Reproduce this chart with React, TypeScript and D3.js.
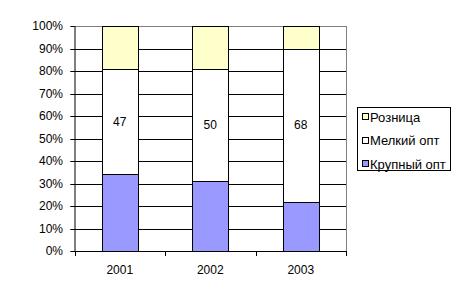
import React from "react";
import * as d3 from "d3";

const years = ["2001", "2002", "2003"];
const krupnyi = [34, 31, 22];
const melkiy = [47, 50, 68];
const roznica = [19, 19, 10];
const seriesNames = ["Крупный опт", "Мелкий опт", "Розница"];
const seriesColors = ["#9999FF", "#FFFFFF", "#FFFFCC"];
const yTicks = [0, 10, 20, 30, 40, 50, 60, 70, 80, 90, 100];

const W = 462, H = 298;
const plot = { left: 74.5, right: 346, top: 26, bottom: 251 };

export default function App() {
  const x = d3.scaleBand().domain(years).range([plot.left, plot.right]).paddingInner(0).paddingOuter(0);
  const y = d3.scaleLinear().domain([0, 100]).range([plot.bottom, plot.top]);
  const barW = 36;
  const rows = years.map((yr, i) => ({ year: yr, k: krupnyi[i], m: melkiy[i], r: roznica[i] }));
  const stack = d3.stack<any>().keys(["k", "m", "r"])(rows);
  const font = "Liberation Sans, Arial, sans-serif";
  const legendItems = [
    { name: seriesNames[2], color: seriesColors[2] },
    { name: seriesNames[1], color: seriesColors[1] },
    { name: seriesNames[0], color: seriesColors[0] },
  ];
  const legY = [117, 140.5, 164];
  return (
    <svg width={W} height={H} style={{ position: "absolute", left: 0, top: 0 }} fontFamily={font}>
      <rect width={W} height={H} fill="#fff" />
      {yTicks.map((t) => (
        <g key={t}>
          <line x1={plot.left - 4} x2={plot.right} y1={Math.round(y(t)) + 0.5} y2={Math.round(y(t)) + 0.5}
            stroke={t === 100 ? "#808080" : "#000"} strokeWidth={1} />
          <line x1={plot.left - 4} x2={plot.left} y1={Math.round(y(t)) + 0.5} y2={Math.round(y(t)) + 0.5} stroke="#000" />
          <text x={63} y={y(t)} dy="0.35em" textAnchor="end" fontSize={12}>{t}%</text>
        </g>
      ))}
      <line x1={plot.right + 0.5} x2={plot.right + 0.5} y1={plot.top} y2={plot.bottom} stroke="#808080" />
      {stack.map((s, si) =>
        s.map((d, i) => {
          const cx = (x(years[i]) as number) + x.bandwidth() / 2;
          const y0 = Math.round(y(d[0])) + 0.5;
          const y1 = Math.round(y(d[1])) + 0.5;
          return (
            <rect key={si + "-" + i} x={Math.round(cx - barW / 2) + 0.5} y={y1} width={barW} height={y0 - y1}
              fill={seriesColors[si]} stroke="#000" strokeWidth={1} />
          );
        })
      )}
      {stack[1].map((d, i) => {
        const cx = (x(years[i]) as number) + x.bandwidth() / 2;
        return (
          <text key={"l" + i} x={cx} y={(y(d[0]) + y(d[1])) / 2} dy="0.35em" textAnchor="middle" fontSize={12}>
            {melkiy[i]}
          </text>
        );
      })}
      <line x1={plot.left + 0.5} x2={plot.left + 0.5} y1={plot.top} y2={plot.bottom + 1} stroke="#000" />
      <line x1={plot.left} x2={plot.right + 1} y1={plot.bottom + 0.5} y2={plot.bottom + 0.5} stroke="#000" />
      {[0, 1, 2, 3].map((i) => {
        const xx = Math.round(plot.left + i * x.bandwidth()) + 0.5;
        return <line key={"t" + i} x1={xx} x2={xx} y1={plot.bottom} y2={plot.bottom + 5} stroke="#000" />;
      })}
      {years.map((yr) => (
        <text key={yr} x={(x(yr) as number) + x.bandwidth() / 2} y={270} dy="0.35em" textAnchor="middle" fontSize={12}>
          {yr}
        </text>
      ))}
      <rect x={357.5} y={107.5} width={93} height={63} fill="#fff" stroke="#000" />
      {legendItems.map((it, i) => (
        <g key={it.name}>
          <rect x={362.5} y={Math.round(legY[i]) - 3.5} width={6} height={6} fill={it.color} stroke="#000" />
          <text x={370} y={legY[i]} dy="0.35em" fontSize={13}>{it.name}</text>
        </g>
      ))}
    </svg>
  );
}
